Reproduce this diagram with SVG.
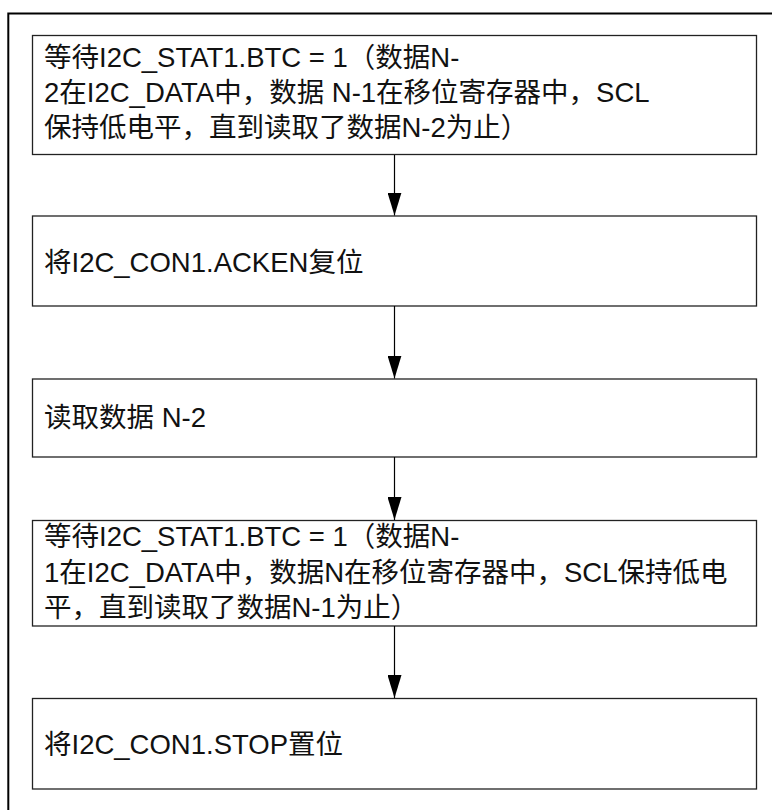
<svg xmlns="http://www.w3.org/2000/svg" width="772" height="810" viewBox="0 0 772 810">
<defs>
<style>
.box{fill:#fff;stroke:#222;stroke-width:1.3}
.t{font-family:"Liberation Sans","Noto Sans CJK SC",sans-serif;font-size:27.5px;fill:#111}
.c{stroke:#000;stroke-width:1.2;fill:none}
.frame{stroke:#000;stroke-width:2;fill:none}
</style>
<marker id="ah" markerUnits="userSpaceOnUse" markerWidth="23" markerHeight="14" refX="23" refY="7" orient="auto" viewBox="0 0 23 14">
<path d="M0,0 L23,7 L0,14 Z" fill="#000"/>
</marker>
</defs>
<rect width="772" height="810" fill="#fff"/>
<path class="frame" d="M8.3,810 V13.5 H772"/>
<g id="n1">
<rect class="box" x="32.5" y="35.5" width="724" height="119"/>
<text class="t" x="44" y="67">等待I2C_STAT1.BTC = 1（数据N-</text>
<text class="t" x="44" y="102">2在I2C_DATA中，数据 N-1在移位寄存器中，SCL</text>
<text class="t" x="44" y="137">保持低电平，直到读取了数据N-2为止）</text>
</g>
<g id="n2">
<rect class="box" x="32.5" y="216" width="724" height="90"/>
<text class="t" x="44" y="272">将I2C_CON1.ACKEN复位</text>
</g>
<g id="n3">
<rect class="box" x="32.5" y="379" width="724" height="78"/>
<text class="t" x="44" y="427">读取数据 N-2</text>
</g>
<g id="n4">
<rect class="box" x="32.5" y="520.5" width="724" height="105.5"/>
<text class="t" x="44" y="546">等待I2C_STAT1.BTC = 1（数据N-</text>
<text class="t" x="44" y="582">1在I2C_DATA中，数据N在移位寄存器中，SCL保持低电</text>
<text class="t" x="44" y="617">平，直到读取了数据N-1为止）</text>
</g>
<g id="n5">
<rect class="box" x="32.5" y="698.5" width="724" height="90.5"/>
<text class="t" x="44" y="754">将I2C_CON1.STOP置位</text>
</g>
<g id="connectors">
<line class="c" x1="394.5" y1="155" x2="394.5" y2="215.5" marker-end="url(#ah)"/>
<line class="c" x1="394.5" y1="306" x2="394.5" y2="378.5" marker-end="url(#ah)"/>
<line class="c" x1="394.5" y1="457" x2="394.5" y2="520" marker-end="url(#ah)"/>
<line class="c" x1="394.5" y1="626" x2="394.5" y2="698" marker-end="url(#ah)"/>
</g>
</svg>
